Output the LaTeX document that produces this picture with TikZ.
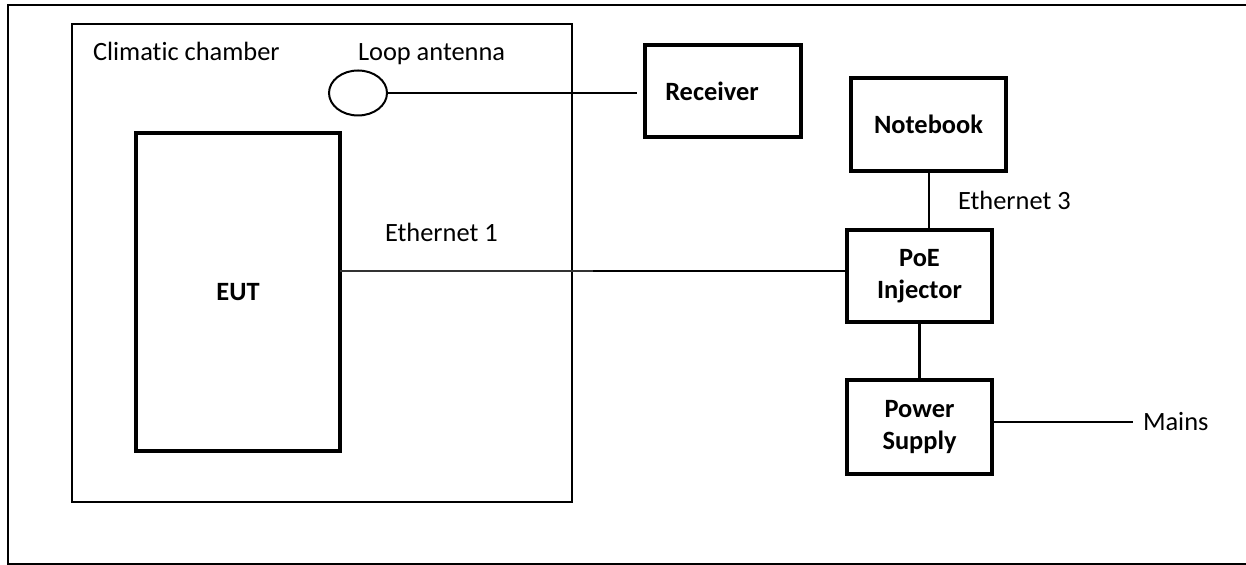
\documentclass[tikz,border=0pt]{standalone}
\usepackage{fontspec}
\setmainfont{Carlito}[Ligatures=NoCommon]
\usetikzlibrary{shapes.geometric,calc}
\begin{document}
\begin{tikzpicture}[x=0.5pt,y=-0.5pt,
  txt/.style={font=\fontsize{13.2}{16}\selectfont, inner sep=0pt, outer sep=0pt},
  boldtxt/.style={txt, font=\fontsize{13.2}{16}\selectfont\bfseries, align=center},
  unit/.style={draw, line width=1.7pt, inner sep=0pt, outer sep=0pt,
               font=\fontsize{13.2}{16}\selectfont\bfseries, align=center},
  wire/.style={line width=1pt},
]
\useasboundingbox (0,0) rectangle (1246,565);

% page frame (open towards the right edge)
\begin{scope}
  \clip (0,0) rectangle (1246,565);
  \draw[line width=1pt] (1270,5) -- (7.5,5) -- (7.5,564) -- (1270,564);
\end{scope}

% climatic chamber with its contents
\node[draw, line width=0.9pt, minimum width=250pt, minimum height=239pt,
      inner sep=0pt, outer sep=0pt] (chamber) at (322,263) {};
\node[txt, anchor=base west] (chlabel) at (93,61) {Climatic chamber};
\node[txt, anchor=base west] (antlabel) at (358,61) {Loop antenna};
\node[draw, ellipse, line width=1pt, minimum width=29pt, minimum height=22.5pt,
      inner sep=0pt, outer sep=0pt] (ant) at (358,93) {};
\node[unit, minimum width=102pt, minimum height=159pt] (eut) at (238,292) {EUT};

% equipment outside the chamber
\node[unit, minimum width=78pt, minimum height=46pt,
      label={[boldtxt, xshift=-5.5pt]center:Receiver}] (rcv) at (723,91) {};
\node[unit, minimum width=77.5pt, minimum height=46.5pt] (nb) at (928.5,124.5) {Notebook};
\node[unit, minimum width=72.5pt, minimum height=46pt] (poe) at (919.5,276) {PoE\\Injector};
\node[unit, minimum width=72.5pt, minimum height=47pt] (ps) at (919.5,427) {Power\\Supply};

% cable labels
\node[txt, anchor=base west] (eth1) at (385,242) {Ethernet 1};
\node[txt, anchor=base west] (eth3) at (958,210) {Ethernet 3};
\node[txt, anchor=west] (mains) at (1143,422) {Mains};

% cables
\draw[wire, shorten >=4pt] (ant.east) -- (ant.east -| rcv.west);
\coordinate (split) at (593,271);
\draw[line width=0.75pt, black!80] (eut.east |- split) -- (split);
\draw[wire] (split) -- (split -| poe.west);
\draw[wire] (nb.south) -- (nb.south |- poe.north);
\draw[line width=1.2pt] (poe.south) -- (ps.north);
\draw[wire, shorten >=5pt] (ps.east |- mains.west) -- (mains.west);
\end{tikzpicture}
\end{document}
